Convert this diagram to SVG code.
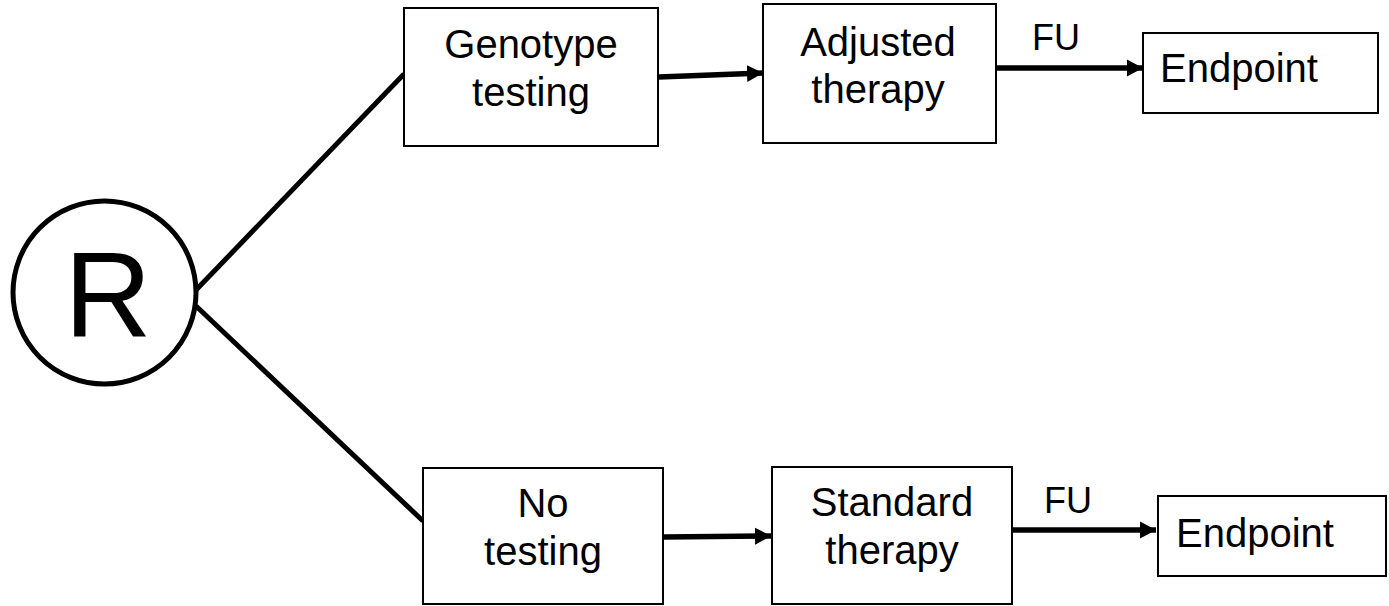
<svg xmlns="http://www.w3.org/2000/svg" width="1389" height="606" viewBox="0 0 1389 606">
<style>
.box{fill:#fff;stroke:#000;stroke-width:2}
.t{font-family:"Liberation Sans",Arial,sans-serif;font-size:40px;fill:#000;text-anchor:middle}
.s{text-anchor:start}
.fu{font-size:36px}
.c{fill:none;stroke:#000;stroke-width:5.5}
.d{fill:none;stroke:#000;stroke-width:5}
</style>
<defs>
<marker id="ah" markerUnits="userSpaceOnUse" markerWidth="18" markerHeight="18" refX="16" refY="9" orient="auto">
<path d="M0,0.5 L16,9 L0,17.5 Z" fill="#000"/>
</marker>
</defs>
<rect width="1389" height="606" fill="#fff"/>
<g id="connectors">
<line class="d" x1="196" y1="290" x2="404" y2="74"/>
<line class="d" x1="196" y1="306" x2="423" y2="521"/>
<line class="c" x1="659" y1="77" x2="763" y2="73" marker-end="url(#ah)"/>
<line class="c" x1="997" y1="68" x2="1143" y2="68" marker-end="url(#ah)"/>
<line class="c" x1="664" y1="537" x2="771" y2="536" marker-end="url(#ah)"/>
<line class="c" x1="1013" y1="530" x2="1156" y2="530" marker-end="url(#ah)"/>
</g>
<g id="R">
<circle cx="104.5" cy="292.5" r="91.5" fill="#fff" stroke="#000" stroke-width="5"/>
<text class="t" x="108" y="337" style="font-size:121px">R</text>
</g>
<g id="genotype">
<rect class="box" x="404" y="8" width="254" height="138"/>
<text class="t" x="531" y="58">Genotype</text>
<text class="t" x="531" y="106">testing</text>
</g>
<g id="adjusted">
<rect class="box" x="763" y="4" width="233" height="139"/>
<text class="t" x="878" y="56">Adjusted</text>
<text class="t" x="878" y="103">therapy</text>
</g>
<g id="fu1">
<text class="t fu" x="1056" y="50">FU</text>
</g>
<g id="endpoint1">
<rect class="box" x="1143" y="33" width="235" height="80"/>
<text class="t s" x="1160" y="82">Endpoint</text>
</g>
<g id="notesting">
<rect class="box" x="423" y="468" width="240" height="136"/>
<text class="t" x="543" y="517">No</text>
<text class="t" x="543" y="565">testing</text>
</g>
<g id="standard">
<rect class="box" x="772" y="467" width="240" height="137"/>
<text class="t" x="892" y="516">Standard</text>
<text class="t" x="892" y="564">therapy</text>
</g>
<g id="fu2">
<text class="t fu" x="1068" y="513">FU</text>
</g>
<g id="endpoint2">
<rect class="box" x="1158" y="496" width="228" height="80"/>
<text class="t s" x="1176" y="547">Endpoint</text>
</g>
</svg>
